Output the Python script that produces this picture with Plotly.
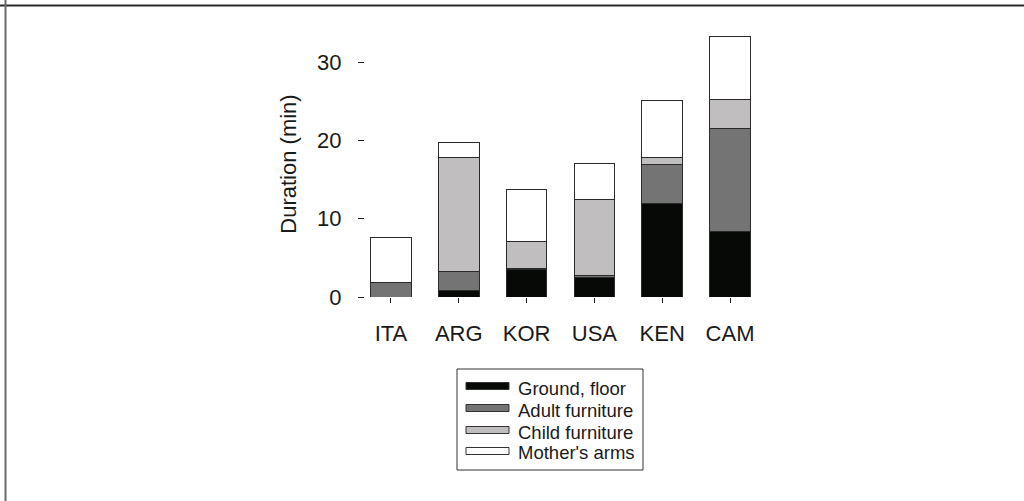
import plotly.graph_objects as go

countries = ["ITA", "ARG", "KOR", "USA", "KEN", "CAM"]
ground_floor = [0.0, 0.8, 3.5, 2.5, 12.0, 8.4]
adult_furniture = [1.9, 2.5, 0.1, 0.3, 4.9, 13.2]
child_furniture = [0.0, 14.5, 3.5, 9.7, 0.9, 3.6]
mothers_arms = [5.7, 2.0, 6.6, 4.6, 7.3, 8.1]

series_names = ["Ground, floor", "Adult furniture", "Child furniture", "Mother's arms"]
series_colors = ["#070907", "#747474", "#c0bebf", "#ffffff"]
series_values = [ground_floor, adult_furniture, child_furniture, mothers_arms]

y_ticks = [0, 10, 20, 30]

W, H = 1024, 501
ML, MR, MT, MB = 365, 268, 31, 204
PW = W - ML - MR
PH = H - MT - MB

def px_x(px):
    return (px - ML) / PW

def px_y(py):
    return (H - MB - py) / PH

fig = go.Figure()
for name, color, vals in zip(series_names, series_colors, series_values):
    fig.add_trace(go.Bar(
        x=countries, y=vals, name=name, width=0.6,
        marker=dict(color=color, line=dict(color="#2a2a2a", width=1)),
        showlegend=False,
    ))

font_family = "Liberation Sans, Arial, sans-serif"

fig.update_layout(
    barmode="stack",
    width=W, height=H,
    margin=dict(l=ML, r=MR, t=MT, b=MB),
    paper_bgcolor="white", plot_bgcolor="white",
    font=dict(family=font_family, color="#1a1a1a", size=22),
    xaxis=dict(
        range=[-0.383, 5.383], showgrid=False, zeroline=False, showline=False,
        ticks="outside", ticklen=5, tickcolor="#1a1a1a", tickwidth=1,
        tickfont=dict(size=22), ticklabelstandoff=12,
    ),
    yaxis=dict(
        range=[0, 34], tickvals=y_ticks, showgrid=False, zeroline=False, showline=False,
        ticks="outside", ticklen=6, tickcolor="#1a1a1a", tickwidth=1,
        tickfont=dict(size=22), ticklabelstandoff=12,
        title=dict(text="Duration (min)", font=dict(size=22), standoff=14),
    ),
)

shapes = []
# outer frame (top and left edges)
shapes.append(dict(type="line", xref="paper", yref="paper",
                   x0=px_x(0), x1=px_x(W), y0=px_y(5.5), y1=px_y(5.5),
                   line=dict(color="#2a2a2a", width=2)))
shapes.append(dict(type="line", xref="paper", yref="paper",
                   x0=px_x(5.5), x1=px_x(5.5), y0=px_y(0), y1=px_y(H),
                   line=dict(color="#6a6a6a", width=2)))
# legend box
shapes.append(dict(type="rect", xref="paper", yref="paper",
                   x0=px_x(457), x1=px_x(643), y0=px_y(369), y1=px_y(470),
                   line=dict(color="#333333", width=1), fillcolor="white"))
row_y = [386, 408, 430, 451]
annotations = []
for name, color, ry in zip(series_names, series_colors, row_y):
    shapes.append(dict(type="rect", xref="paper", yref="paper",
                       x0=px_x(466), x1=px_x(509), y0=px_y(ry - 3.5), y1=px_y(ry + 3.5),
                       line=dict(color="#333333", width=1), fillcolor=color))
    annotations.append(dict(xref="paper", yref="paper", x=px_x(516), y=px_y(ry + 2),
                            text=name, showarrow=False, xanchor="left", yanchor="middle",
                            font=dict(size=18.5, family=font_family, color="#1a1a1a")))
fig.update_layout(shapes=shapes, annotations=annotations)

fig.write_html("out.html", config={"displayModeBar": False},
               post_script="document.body.style.margin='0px';")
